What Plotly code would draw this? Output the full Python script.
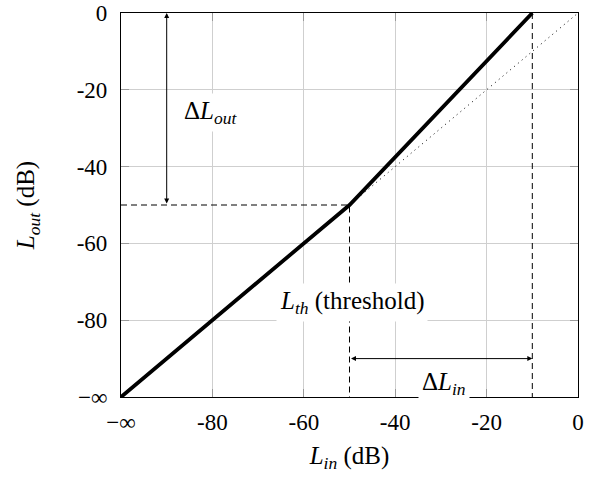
import plotly.graph_objects as go

# Data
curve_x = [-100, -50, -10]
curve_y = [-100, -50, 0]
unity_x = [-50, 0]
unity_y = [-50, 0]
threshold_in = -50
threshold_out = -50
max_in = -10
top_out = 0
axis_min = -100
arrow_out_x = -90
arrow_in_y = -90
tick_vals = [-100, -80, -60, -40, -20, 0]
tick_text = ["−∞", "-80", "-60", "-40", "-20", "0"]

FONT = "Liberation Serif"
fig = go.Figure()

# dashed guide lines
fig.add_trace(go.Scatter(x=[axis_min, threshold_in, threshold_in], y=[threshold_out, threshold_out, axis_min],
                         mode="lines", line=dict(color="black", width=1, dash="6px,4px"), hoverinfo="skip"))
fig.add_trace(go.Scatter(x=[max_in, max_in], y=[top_out, axis_min],
                         mode="lines", line=dict(color="black", width=1, dash="6px,4px"), hoverinfo="skip"))
# dotted unity line
fig.add_trace(go.Scatter(x=unity_x, y=unity_y, mode="lines",
                         line=dict(color="black", width=1, dash="1px,4px"), hoverinfo="skip"))
# main curve
fig.add_trace(go.Scatter(x=curve_x, y=curve_y, mode="lines",
                         line=dict(color="black", width=3.8), hoverinfo="skip"))

# arrows
fig.add_annotation(x=arrow_out_x, y=top_out, ax=arrow_out_x, ay=threshold_out, xref="x", yref="y",
                   axref="x", ayref="y", showarrow=True, arrowhead=2, startarrowhead=2,
                   arrowside="end+start", arrowsize=1, arrowwidth=1, arrowcolor="black", text="")
fig.add_annotation(x=max_in, y=arrow_in_y, ax=threshold_in, ay=arrow_in_y, xref="x", yref="y",
                   axref="x", ayref="y", showarrow=True, arrowhead=2, startarrowhead=2,
                   arrowside="end+start", arrowsize=1, arrowwidth=1, arrowcolor="black", text="")

# labels
LBL = dict(family=FONT, size=25, color="black")
fig.add_annotation(x=-80.5, y=-26, xref="x", yref="y", showarrow=False,
                   text="Δ<i>L<sub>out</sub></i>", font=LBL, bgcolor="white", borderpad=3)
fig.add_annotation(x=-49.5, y=-75.5, xref="x", yref="y", showarrow=False,
                   text="<i>L<sub>th</sub></i> (threshold)", font=LBL, bgcolor="white", borderpad=3)
fig.add_annotation(x=-29.3, y=-96.5, xref="x", yref="y", showarrow=False,
                   text="Δ<i>L<sub>in</sub></i>", font=LBL, bgcolor="white", borderpad=3)

axis_common = dict(range=[-100, 0], tickvals=tick_vals, ticktext=tick_text,
                   showgrid=True, gridcolor="#cfcfcf", gridwidth=1,
                   showline=True, linecolor="black", linewidth=1.2, mirror="ticks",
                   ticks="inside", ticklen=8, tickcolor="#9a9a9a", tickwidth=1,
                   zeroline=False, automargin=False,
                   tickfont=dict(family=FONT, size=23, color="black"))

TTL = dict(family=FONT, size=25, color="black")
fig.update_xaxes(**axis_common, ticklabelstandoff=4,
                 title=dict(text="<i>L<sub>in</sub></i> (dB)", font=TTL, standoff=12))
fig.update_yaxes(**axis_common, ticklabelstandoff=8,
                 title=dict(text="<i>L<sub>out</sub></i> (dB)", font=TTL, standoff=34))

fig.update_layout(width=592, height=477, showlegend=False,
                  plot_bgcolor="white", paper_bgcolor="white",
                  margin=dict(l=121, r=14, t=13, b=80))

fig.write_html("out.html", post_script="document.body.style.margin='0';",
               config={"displayModeBar": False})
